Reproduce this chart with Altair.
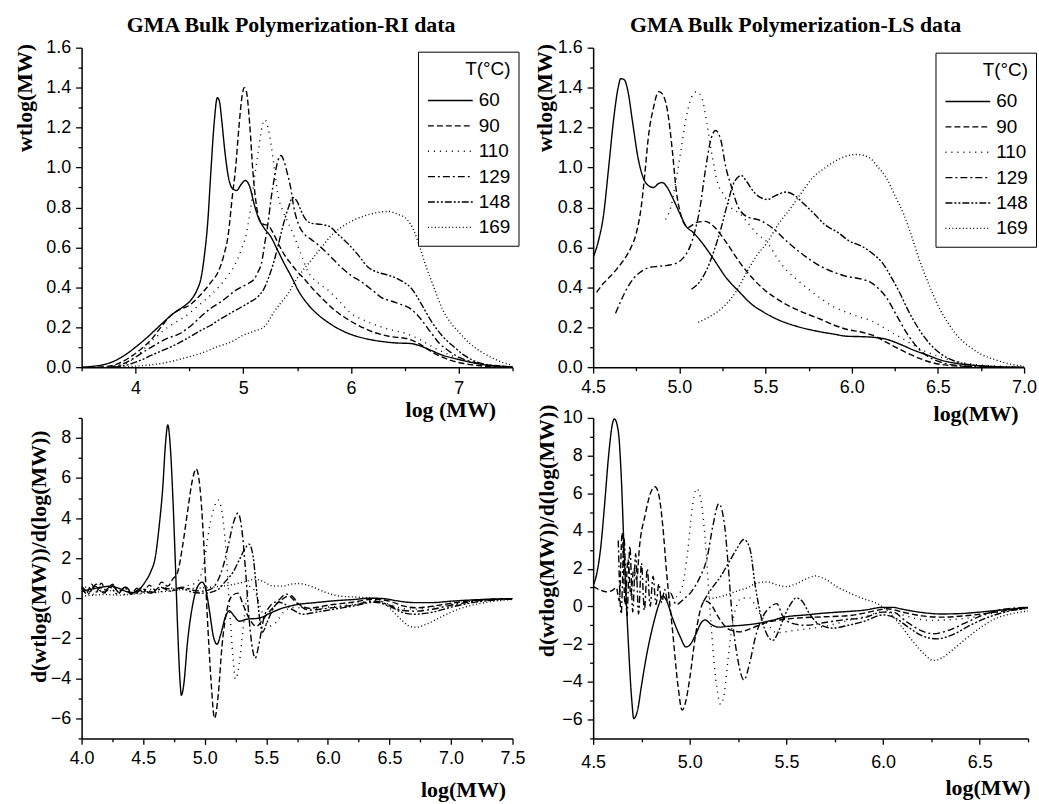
import altair as alt
import pandas as pd

# ---------------- categories / styles ----------------
T_LABELS = ["60", "90", "110", "129", "148", "169"]
DASHES = [[1, 0], [6, 3], [1, 5], [7, 3, 2, 3], [7, 2, 2, 2, 2, 2], [1, 2.5]]

TITLE_RI = "GMA Bulk Polymerization-RI data"
TITLE_LS = "GMA Bulk Polymerization-LS data"
YT_TOP = "wtlog(MW)"
YT_BOT = "d(wtlog(MW))/d(log(MW))"

# ---------------- tick values ----------------
X_TICKS_RI = [3.5, 4, 4.5, 5, 5.5, 6, 6.5, 7, 7.5]
Y_TICKS_W = [0, 0.1, 0.2, 0.3, 0.4, 0.5, 0.6, 0.7, 0.8, 0.9, 1.0, 1.1, 1.2, 1.3, 1.4, 1.5, 1.6]
X_TICKS_LS = [4.5, 4.75, 5.0, 5.25, 5.5, 5.75, 6.0, 6.25, 6.5, 6.75, 7.0]
X_TICKS_DRI = [4.0, 4.25, 4.5, 4.75, 5.0, 5.25, 5.5, 5.75, 6.0, 6.25, 6.5, 6.75, 7.0, 7.25, 7.5]
Y_TICKS_DRI = [-7, -6, -5, -4, -3, -2, -1, 0, 1, 2, 3, 4, 5, 6, 7, 8, 9]
X_TICKS_DLS = [4.5, 4.75, 5.0, 5.25, 5.5, 5.75, 6.0, 6.25, 6.5, 6.75]
Y_TICKS_DLS = [-7, -6, -5, -4, -3, -2, -1, 0, 1, 2, 3, 4, 5, 6, 7, 8, 9, 10]

# ---------------- RI wtlog(MW) ----------------
RI_60 = [(3.5,0.0),(3.6,0.004),(3.7,0.012),(3.8,0.03),(3.9,0.06),(4.0,0.10),(4.1,0.145),(4.2,0.195),
         (4.3,0.245),(4.38,0.28),(4.45,0.305),(4.52,0.34),(4.57,0.385),(4.61,0.45),(4.64,0.56),(4.67,0.72),
         (4.7,0.98),(4.73,1.22),(4.76,1.35),(4.78,1.33),(4.8,1.24),(4.83,1.08),(4.86,0.96),(4.9,0.895),
         (4.94,0.885),(4.98,0.915),(5.02,0.935),(5.06,0.905),(5.1,0.82),(5.14,0.75),(5.19,0.7),(5.26,0.65),
         (5.32,0.585),(5.38,0.52),(5.45,0.45),(5.51,0.385),(5.6,0.315),(5.69,0.265),(5.8,0.22),(5.91,0.185),
         (6.05,0.155),(6.21,0.135),(6.4,0.122),(6.56,0.118),(6.65,0.105),(6.74,0.085),(6.85,0.06),(6.95,0.045),
         (7.05,0.032),(7.15,0.02),(7.3,0.008),(7.5,0.002)]
RI_90 = [(3.65,0.0),(3.75,0.005),(3.85,0.02),(3.95,0.05),(4.05,0.09),(4.15,0.14),(4.25,0.21),(4.33,0.26),
         (4.4,0.285),(4.5,0.31),(4.6,0.36),(4.7,0.425),(4.77,0.48),(4.82,0.56),(4.86,0.66),(4.9,0.86),
         (4.93,1.0),(4.96,1.2),(4.99,1.36),(5.01,1.40),(5.03,1.38),(5.06,1.22),(5.09,0.98),(5.12,0.82),
         (5.15,0.74),(5.19,0.715),(5.23,0.71),(5.27,0.68),(5.32,0.625),(5.38,0.565),(5.44,0.52),(5.5,0.48),
         (5.57,0.44),(5.65,0.39),(5.75,0.335),(5.85,0.285),(5.94,0.25),(6.05,0.215),(6.21,0.175),(6.35,0.155),
         (6.54,0.14),(6.64,0.115),(6.74,0.08),(6.85,0.05),(6.95,0.03),(7.05,0.018),(7.2,0.007),(7.4,0.001)]
RI_110 = [(3.75,0.0),(3.9,0.015),(4.0,0.05),(4.15,0.13),(4.3,0.2),(4.45,0.25),(4.61,0.32),(4.77,0.40),
          (4.86,0.46),(4.92,0.51),(4.98,0.585),(5.03,0.67),(5.07,0.80),(5.11,0.97),(5.14,1.08),(5.17,1.19),
          (5.2,1.24),(5.23,1.2),(5.26,1.11),(5.29,0.99),(5.32,0.87),(5.37,0.78),(5.42,0.72),(5.47,0.66),
          (5.54,0.56),(5.6,0.48),(5.7,0.42),(5.79,0.385),(5.9,0.325),(6.0,0.27),(6.1,0.24),(6.21,0.215),
          (6.35,0.19),(6.53,0.165),(6.65,0.135),(6.78,0.095),(6.9,0.065),(7.05,0.035),(7.2,0.015),(7.4,0.004),
          (7.5,0.001)]
RI_129 = [(3.75,0.0),(3.9,0.02),(4.0,0.05),(4.1,0.085),(4.21,0.12),(4.3,0.145),(4.4,0.165),(4.52,0.21),
          (4.62,0.26),(4.7,0.295),(4.8,0.33),(4.86,0.355),(4.93,0.385),(4.98,0.40),(5.05,0.42),(5.1,0.44),
          (5.14,0.48),(5.17,0.52),(5.2,0.62),(5.23,0.72),(5.26,0.85),(5.29,0.95),(5.32,1.03),(5.35,1.06),
          (5.38,1.03),(5.41,0.97),(5.44,0.90),(5.47,0.80),(5.51,0.72),(5.57,0.665),(5.63,0.64),(5.69,0.615),
          (5.8,0.56),(5.91,0.5),(6.0,0.46),(6.09,0.43),(6.2,0.385),(6.28,0.35),(6.38,0.33),(6.46,0.315),
          (6.56,0.29),(6.65,0.24),(6.74,0.175),(6.82,0.12),(6.9,0.085),(7.0,0.05),(7.1,0.03),(7.25,0.012),
          (7.4,0.004),(7.5,0.001)]
RI_148 = [(3.8,0.0),(3.95,0.015),(4.05,0.035),(4.15,0.06),(4.28,0.09),(4.4,0.12),(4.5,0.15),(4.61,0.185),
          (4.7,0.21),(4.77,0.235),(4.88,0.27),(4.98,0.30),(5.06,0.325),(5.14,0.355),(5.19,0.39),(5.23,0.44),
          (5.28,0.52),(5.32,0.60),(5.37,0.71),(5.42,0.80),(5.46,0.85),(5.5,0.83),(5.54,0.78),(5.58,0.74),
          (5.64,0.72),(5.72,0.715),(5.8,0.705),(5.88,0.665),(5.97,0.62),(6.07,0.56),(6.16,0.5),(6.25,0.475),
          (6.35,0.46),(6.46,0.435),(6.56,0.395),(6.65,0.32),(6.74,0.235),(6.85,0.155),(6.96,0.10),(7.05,0.06),
          (7.15,0.03),(7.3,0.01),(7.5,0.002)]
RI_169 = [(3.9,0.0),(4.0,0.005),(4.15,0.012),(4.3,0.025),(4.45,0.045),(4.61,0.07),(4.75,0.1),(4.92,0.135),
          (4.98,0.155),(5.1,0.18),(5.2,0.205),(5.29,0.28),(5.36,0.33),(5.42,0.37),(5.47,0.42),(5.54,0.475),
          (5.63,0.535),(5.72,0.595),(5.81,0.655),(5.91,0.70),(6.02,0.735),(6.14,0.76),(6.25,0.775),(6.34,0.78),
          (6.44,0.765),(6.52,0.74),(6.58,0.69),(6.64,0.6),(6.7,0.5),(6.77,0.40),(6.85,0.29),(6.93,0.22),
          (7.02,0.165),(7.1,0.12),(7.2,0.08),(7.3,0.05),(7.4,0.025),(7.5,0.01)]

# ---------------- LS wtlog(MW) ----------------
LS_60 = [(4.5,0.55),(4.53,0.63),(4.56,0.76),(4.59,1.0),(4.62,1.25),(4.645,1.4),(4.66,1.445),(4.68,1.44),
         (4.7,1.39),(4.73,1.22),(4.76,1.05),(4.79,0.95),(4.82,0.91),(4.85,0.9),(4.88,0.92),(4.9,0.925),
         (4.93,0.9),(4.96,0.85),(5.0,0.775),(5.04,0.705),(5.08,0.675),(5.13,0.625),(5.2,0.54),(5.27,0.45),
         (5.35,0.375),(5.42,0.315),(5.49,0.275),(5.58,0.235),(5.68,0.205),(5.8,0.18),(5.9,0.165),(5.97,0.155),
         (6.05,0.153),(6.12,0.15),(6.2,0.14),(6.28,0.115),(6.36,0.085),(6.44,0.06),(6.52,0.035),(6.6,0.02),
         (6.7,0.01),(6.8,0.004),(7.0,0.0)]
LS_90 = [(4.52,0.375),(4.56,0.42),(4.6,0.455),(4.64,0.495),(4.68,0.54),(4.72,0.6),(4.75,0.67),(4.78,0.81),
         (4.8,0.97),(4.82,1.15),(4.85,1.3),(4.88,1.38),(4.9,1.37),(4.93,1.29),(4.96,1.08),(4.98,0.9),
         (5.01,0.76),(5.05,0.70),(5.1,0.725),(5.15,0.73),(5.2,0.705),(5.26,0.64),(5.35,0.525),(5.42,0.45),
         (5.49,0.39),(5.56,0.345),(5.64,0.305),(5.73,0.27),(5.82,0.24),(5.9,0.21),(5.97,0.19),(6.06,0.175),
         (6.12,0.16),(6.2,0.125),(6.3,0.08),(6.39,0.045),(6.47,0.022),(6.55,0.01),(6.7,0.003)]
LS_110 = [(4.92,0.74),(4.95,0.8),(4.98,0.93),(5.01,1.09),(5.04,1.25),(5.07,1.35),(5.1,1.38),(5.13,1.35),
          (5.16,1.22),(5.19,1.06),(5.22,0.93),(5.26,0.86),(5.3,0.8),(5.35,0.77),(5.4,0.72),(5.45,0.67),
          (5.51,0.625),(5.58,0.53),(5.64,0.47),(5.68,0.44),(5.75,0.39),(5.82,0.345),(5.9,0.3),(5.97,0.275),
          (6.05,0.25),(6.12,0.23),(6.2,0.19),(6.3,0.14),(6.4,0.09),(6.5,0.055),(6.6,0.03),(6.7,0.015),
          (6.85,0.005),(7.0,0.001)]
LS_129 = [(4.63,0.27),(4.66,0.33),(4.7,0.40),(4.74,0.45),(4.78,0.48),(4.83,0.5),(4.88,0.505),(4.93,0.51),
          (4.98,0.52),(5.02,0.545),(5.06,0.6),(5.09,0.68),(5.12,0.8),(5.15,0.98),(5.18,1.13),(5.21,1.185),
          (5.24,1.14),(5.27,1.0),(5.3,0.91),(5.34,0.805),(5.39,0.755),(5.47,0.735),(5.55,0.69),(5.63,0.625),
          (5.7,0.575),(5.82,0.505),(5.97,0.455),(6.06,0.44),(6.12,0.42),(6.16,0.39),(6.2,0.35),(6.26,0.26),
          (6.32,0.17),(6.38,0.1),(6.44,0.055),(6.5,0.03),(6.6,0.01),(6.75,0.002)]
LS_148 = [(5.07,0.39),(5.12,0.43),(5.16,0.49),(5.2,0.58),(5.24,0.69),(5.28,0.82),(5.32,0.93),(5.36,0.96),
          (5.39,0.93),(5.43,0.88),(5.47,0.85),(5.51,0.84),(5.56,0.86),(5.62,0.877),(5.67,0.86),(5.72,0.82),
          (5.78,0.77),(5.85,0.71),(5.92,0.675),(5.98,0.635),(6.06,0.605),(6.12,0.57),(6.18,0.52),(6.23,0.45),
          (6.28,0.37),(6.33,0.28),(6.39,0.19),(6.45,0.12),(6.52,0.065),(6.6,0.03),(6.7,0.01),(6.85,0.002)]
LS_169 = [(5.11,0.225),(5.18,0.255),(5.26,0.305),(5.33,0.38),(5.39,0.475),(5.45,0.56),(5.51,0.625),
          (5.57,0.71),(5.64,0.79),(5.71,0.875),(5.78,0.955),(5.84,0.995),(5.9,1.03),(5.96,1.055),(6.03,1.065),
          (6.1,1.05),(6.15,1.005),(6.2,0.95),(6.25,0.86),(6.3,0.77),(6.35,0.65),(6.4,0.52),(6.45,0.41),
          (6.5,0.31),(6.56,0.22),(6.62,0.15),(6.68,0.105),(6.75,0.065),(6.84,0.035),(6.92,0.015),(7.0,0.005)]

# ---------------- RI derivative ----------------
D_RI_60 = [(4.0,0.35),(4.08,0.45),(4.16,0.55),(4.23,0.6),(4.3,0.5),(4.37,0.32),(4.42,0.28),(4.47,0.45),
           (4.52,0.85),(4.56,1.3),(4.6,2.1),(4.63,3.6),(4.66,5.6),(4.68,7.6),(4.7,8.65),(4.72,7.6),(4.74,5.2),
           (4.76,2.0),(4.78,-1.5),(4.8,-4.2),(4.81,-4.85),(4.83,-4.3),(4.86,-2.2),(4.9,-0.4),(4.94,0.55),
           (4.98,0.8),(5.01,0.4),(5.04,-0.7),(5.07,-1.9),(5.1,-2.3),(5.13,-1.8),(5.17,-0.9),(5.2,-0.63),
           (5.24,-0.9),(5.28,-1.15),(5.34,-1.05),(5.44,-1.0),(5.52,-0.78),(5.63,-0.5),(5.75,-0.32),(5.9,-0.22),
           (6.05,-0.13),(6.2,-0.07),(6.35,0.0),(6.45,-0.02),(6.55,-0.12),(6.7,-0.22),(6.85,-0.22),(7.0,-0.15),
           (7.2,-0.08),(7.5,-0.02)]
D_RI_90 = [(4.0,0.55),(4.04,0.25),(4.08,0.7),(4.12,0.3),(4.16,0.75),(4.2,0.35),(4.25,0.7),(4.3,0.3),
           (4.35,0.55),(4.4,0.2),(4.45,0.5),(4.5,0.3),(4.55,0.65),(4.6,0.4),(4.65,0.8),(4.7,0.6),(4.74,0.95),
           (4.78,1.3),(4.82,2.6),(4.86,4.3),(4.9,5.9),(4.93,6.45),(4.96,5.6),(4.99,3.0),(5.02,-0.8),(5.05,-4.0),
           (5.08,-6.0),(5.11,-4.8),(5.14,-2.4),(5.18,-0.6),(5.22,0.1),(5.27,0.25),(5.31,-0.3),(5.36,-1.0),
           (5.42,-1.4),(5.48,-1.0),(5.55,-0.5),(5.62,-0.1),(5.68,0.1),(5.75,-0.25),(5.85,-0.5),(6.0,-0.35),
           (6.2,-0.2),(6.38,-0.05),(6.5,-0.15),(6.62,-0.4),(6.72,-0.48),(6.85,-0.4),(7.0,-0.25),(7.2,-0.1),
           (7.5,-0.02)]
D_RI_110 = [(4.0,0.3),(4.05,0.6),(4.1,0.2),(4.15,0.55),(4.2,0.25),(4.27,0.5),(4.33,0.15),(4.4,0.4),
            (4.47,0.2),(4.55,0.45),(4.62,0.25),(4.7,0.55),(4.78,0.4),(4.85,0.6),(4.92,0.75),(4.96,1.0),
            (5.0,2.0),(5.04,3.6),(5.08,4.6),(5.11,4.9),(5.14,4.3),(5.17,2.6),(5.2,-0.3),(5.23,-3.0),(5.25,-4.05),
            (5.28,-3.3),(5.31,-1.6),(5.34,0.0),(5.37,0.6),(5.41,0.3),(5.46,-0.6),(5.52,-1.4),(5.58,-1.2),
            (5.64,-0.7),(5.72,-0.45),(5.85,-0.55),(6.0,-0.45),(6.2,-0.3),(6.38,-0.1),(6.5,-0.3),(6.6,-0.5),
            (6.7,-0.55),(6.85,-0.45),(7.0,-0.3),(7.2,-0.12),(7.5,-0.03)]
D_RI_129 = [(4.0,0.6),(4.06,0.3),(4.12,0.7),(4.18,0.25),(4.24,0.65),(4.3,0.35),(4.36,0.55),(4.42,0.2),
            (4.5,0.45),(4.58,0.3),(4.66,0.5),(4.74,0.45),(4.82,0.55),(4.9,0.4),(4.98,0.35),(5.05,0.45),
            (5.1,0.8),(5.15,1.6),(5.19,2.6),(5.23,3.7),(5.27,4.25),(5.3,3.5),(5.33,1.5),(5.36,-1.0),(5.39,-2.6),
            (5.41,-3.0),(5.44,-2.3),(5.48,-1.0),(5.53,-0.4),(5.6,-0.1),(5.66,0.2),(5.71,0.1),(5.77,-0.35),
            (5.85,-0.6),(6.0,-0.5),(6.2,-0.35),(6.38,-0.15),(6.5,-0.35),(6.6,-0.6),(6.7,-0.65),(6.85,-0.55),
            (7.0,-0.35),(7.2,-0.15),(7.5,-0.03)]
D_RI_148 = [(4.0,0.5),(4.05,0.2),(4.11,0.6),(4.17,0.3),(4.23,0.55),(4.29,0.2),(4.35,0.5),(4.41,0.25),
            (4.48,0.5),(4.56,0.25),(4.64,0.55),(4.72,0.35),(4.8,0.5),(4.9,0.3),(5.0,0.25),(5.1,0.4),
            (5.17,0.85),(5.23,1.3),(5.28,1.9),(5.33,2.5),(5.36,2.7),(5.39,2.2),(5.42,0.5),(5.45,-1.2),
            (5.47,-1.7),(5.5,-1.3),(5.55,-0.6),(5.6,-0.2),(5.65,-0.3),(5.72,-0.6),(5.8,-0.8),(5.9,-0.7),
            (6.05,-0.55),(6.2,-0.4),(6.38,-0.2),(6.5,-0.4),(6.6,-0.7),(6.7,-0.8),(6.85,-0.7),(7.0,-0.45),
            (7.2,-0.2),(7.5,-0.04)]
D_RI_169 = [(4.0,0.1),(4.1,0.15),(4.2,0.18),(4.3,0.15),(4.4,0.2),(4.5,0.25),(4.6,0.3),(4.7,0.35),(4.8,0.42),
            (4.9,0.48),(5.0,0.52),(5.1,0.58),(5.2,0.65),(5.3,0.78),(5.36,0.88),(5.41,0.95),(5.47,0.85),
            (5.55,0.62),(5.63,0.6),(5.7,0.7),(5.76,0.73),(5.82,0.68),(5.9,0.5),(6.0,0.25),(6.1,0.1),(6.25,0.05),
            (6.38,0.0),(6.45,-0.2),(6.52,-0.6),(6.6,-1.1),(6.67,-1.42),(6.72,-1.45),(6.8,-1.3),(6.9,-1.0),
            (7.0,-0.7),(7.1,-0.47),(7.25,-0.25),(7.5,-0.06)]

# ---------------- LS derivative ----------------
D_LS_60 = [(4.5,1.1),(4.52,1.8),(4.54,3.2),(4.56,5.5),(4.58,8.0),(4.6,9.7),(4.61,9.95),(4.63,9.3),
           (4.645,7.0),(4.66,3.0),(4.68,-1.5),(4.7,-5.0),(4.71,-5.95),(4.73,-5.5),(4.75,-4.2),(4.78,-2.4),
           (4.81,-1.0),(4.84,0.1),(4.86,0.55),(4.88,0.3),(4.91,-0.6),(4.95,-1.6),(4.98,-2.15),(5.0,-2.05),
           (5.03,-1.5),(5.06,-0.85),(5.08,-0.72),(5.11,-0.95),(5.15,-1.1),(5.2,-1.05),(5.27,-1.0),(5.35,-0.9),
           (5.42,-0.75),(5.5,-0.55),(5.6,-0.45),(5.7,-0.35),(5.8,-0.28),(5.9,-0.2),(6.0,-0.05),(6.05,-0.05),
           (6.1,-0.15),(6.2,-0.32),(6.3,-0.4),(6.4,-0.38),(6.5,-0.3),(6.6,-0.2),(6.75,-0.05)]
D_LS_90 = [(4.5,1.05),(4.53,0.9),(4.57,0.77),(4.6,0.85),(4.62,1.0),(4.635,0.3),(4.65,3.9),(4.665,0.1),
           (4.68,2.5),(4.695,0.6),(4.71,2.0),(4.725,1.4),(4.74,3.2),(4.77,4.9),(4.8,6.1),(4.82,6.35),
           (4.84,5.9),(4.86,4.3),(4.88,1.8),(4.91,-1.2),(4.94,-4.3),(4.96,-5.5),(4.98,-5.0),(5.0,-3.8),
           (5.03,-1.5),(5.06,0.0),(5.08,0.3),(5.11,0.1),(5.15,-0.6),(5.2,-1.2),(5.26,-1.35),(5.32,-1.15),
           (5.4,-0.85),(5.48,-0.7),(5.58,-0.6),(5.7,-0.55),(5.83,-0.48),(5.95,-0.25),(6.02,-0.12),(6.1,-0.3),
           (6.2,-0.5),(6.3,-0.57),(6.42,-0.5),(6.55,-0.35),(6.65,-0.2),(6.75,-0.08)]
D_LS_110 = [(4.93,0.5),(4.96,1.0),(4.99,3.0),(5.01,5.0),(5.035,6.25),(5.06,5.5),(5.08,3.5),(5.1,0.5),
            (5.12,-2.3),(5.14,-4.3),(5.16,-5.2),(5.18,-4.5),(5.2,-2.6),(5.23,-0.4),(5.27,0.45),(5.31,0.45),
            (5.35,-0.2),(5.4,-0.9),(5.45,-1.4),(5.52,-1.3),(5.6,-1.2),(5.7,-1.05),(5.8,-0.8),(5.9,-0.55),
            (6.0,-0.3),(6.08,-0.4),(6.17,-0.65),(6.26,-0.74),(6.35,-0.7),(6.45,-0.6),(6.55,-0.4),(6.65,-0.22),
            (6.75,-0.1)]
D_LS_129 = [(4.63,3.5),(4.645,-0.4),(4.66,3.6),(4.675,-0.5),(4.69,3.2),(4.705,-0.3),(4.72,2.8),(4.735,-0.4),
            (4.75,2.3),(4.765,-0.2),(4.78,2.0),(4.795,0.0),(4.81,1.6),(4.825,0.1),(4.84,1.2),(4.855,0.2),
            (4.87,0.9),(4.885,0.3),(4.9,0.7),(4.93,0.1),(4.97,0.4),(5.01,0.8),(5.05,1.5),(5.09,2.6),(5.12,4.3),
            (5.15,5.45),(5.18,4.3),(5.2,2.0),(5.22,-0.6),(5.25,-2.9),(5.28,-3.9),(5.31,-3.0),(5.34,-1.6),
            (5.38,-0.5),(5.42,0.0),(5.45,0.15),(5.48,-0.5),(5.53,-0.9),(5.6,-1.0),(5.7,-0.85),(5.8,-0.7),
            (5.9,-0.6),(6.0,-0.3),(6.05,-0.3),(6.12,-0.8),(6.2,-1.3),(6.26,-1.45),(6.33,-1.3),(6.42,-0.9),
            (6.52,-0.45),(6.62,-0.15),(6.75,-0.05)]
D_LS_148 = [(5.07,0.25),(5.11,0.9),(5.16,1.6),(5.2,2.3),(5.24,3.0),(5.28,3.55),(5.31,3.1),(5.34,1.0),
            (5.37,-0.6),(5.4,-1.5),(5.43,-1.8),(5.46,-1.3),(5.49,-0.5),(5.52,0.1),(5.55,0.45),(5.58,0.3),
            (5.62,-0.4),(5.67,-0.95),(5.74,-1.15),(5.82,-1.0),(5.9,-0.8),(6.0,-0.45),(6.06,-0.6),(6.13,-1.1),
            (6.2,-1.55),(6.28,-1.72),(6.36,-1.5),(6.45,-1.0),(6.55,-0.55),(6.65,-0.25),(6.75,-0.1)]
D_LS_169 = [(5.1,0.4),(5.17,0.55),(5.24,0.8),(5.3,1.0),(5.35,1.25),(5.4,1.3),(5.45,1.15),(5.5,1.05),
            (5.55,1.2),(5.6,1.45),(5.65,1.62),(5.7,1.45),(5.76,1.05),(5.83,0.7),(5.9,0.4),(5.97,0.15),
            (6.03,-0.3),(6.09,-1.0),(6.15,-1.8),(6.21,-2.5),(6.26,-2.87),(6.31,-2.7),(6.36,-2.3),(6.43,-1.7),
            (6.5,-1.15),(6.58,-0.65),(6.66,-0.4),(6.75,-0.25)]


def frame(series_list):
    rows = []
    for lab, pts in zip(T_LABELS, series_list):
        for i, (x, y) in enumerate(pts):
            rows.append({"x": x, "y": y, "T": lab, "i": i})
    return pd.DataFrame(rows)


TICK_MAJOR = 6
TICK_MINOR = 3.5


def axis(values, major_test, fmt, title, tx, ty, vertical, lpad):
    common = dict(
        values=values,
        labelExpr=f"({major_test}) ? format(datum.value, '{fmt}') : ''",
        tickSize={"condition": {"test": major_test, "value": TICK_MAJOR}, "value": TICK_MINOR},
        title=title,
        titleX=tx,
        titleY=ty,
        labelFlush=False,
        labelOverlap=False,
        grid=False,
        labelPadding=lpad,
        domainColor="black", domainWidth=1.5, tickColor="black", tickWidth=1.3,
        labelColor="black", labelFont="Liberation Sans", labelFontSize=18,
        titleFont="Liberation Serif", titleFontSize=22, titleFontWeight="bold", titleColor="black",
    )
    if vertical:
        common.update(titleAngle=270, titleBaseline="middle", titleAlign="center")
    else:
        common.update(titleAlign="right", titleBaseline="alphabetic")
    return alt.Axis(**common)


def legend(lx, ly):
    return alt.Legend(
        title="T(°C)", orient="none", legendX=lx, legendY=ly,
        symbolType="M -1 0 L 5 0", symbolSize=225, symbolStrokeColor="black",
        symbolStrokeWidth=1.4, symbolFillColor="transparent", labelOffset=34,
        labelFont="Liberation Sans", labelFontSize=19, labelColor="black",
        titleFont="Liberation Sans", titleFontSize=19, titleFontWeight="normal",
        titleColor="black", titleAnchor="end", titlePadding=12.5, rowPadding=5.5,
        padding=8, strokeColor="black", fillColor="white",
    )


def panel(df, xdom, ydom, xax, yax, width, height, leg, title=None):
    ch = alt.Chart(df).mark_line(color="black", strokeWidth=1.4, interpolate="monotone", clip=True).encode(
        x=alt.X("x:Q", scale=alt.Scale(domain=xdom, nice=False, zero=False), axis=xax),
        y=alt.Y("y:Q", scale=alt.Scale(domain=ydom, nice=False, zero=False), axis=yax),
        strokeDash=alt.StrokeDash("T:N", scale=alt.Scale(domain=T_LABELS, range=DASHES),
                                  legend=leg if leg is not None else None),
        detail="T:N",
        order="i:Q",
    ).properties(width=width, height=height)
    if title is not None:
        ch = ch.properties(title=title)
    return ch


def ttl(text, dx):
    return alt.TitleParams(text=text, font="Liberation Serif", fontSize=22, fontWeight="bold",
                           color="black", anchor="middle", dx=dx, offset=-15, baseline="alphabetic",
                           frame="group")


T_HALF = "abs(datum.value*2 - round(datum.value*2)) < 0.001"
T_INT = "abs(datum.value - round(datum.value)) < 0.001"
T_FIFTH = "abs(datum.value*5 - round(datum.value*5)) < 0.001"
T_EVEN = "abs(datum.value % 2) < 0.001"

p1 = panel(frame([RI_60, RI_90, RI_110, RI_129, RI_148, RI_169]), [3.5, 7.5], [0, 1.6],
           axis(X_TICKS_RI, T_INT, "d", "log (MW)", 416, 50, False, 6),
           axis(Y_TICKS_W, T_FIFTH, ".1f", YT_TOP, -57, 50, True, 5),
           433, 321, legend(338, 4), ttl(TITLE_RI, -6))
p2 = panel(frame([LS_60, LS_90, LS_110, LS_129, LS_148, LS_169]), [4.5, 7.0], [0, 1.6],
           axis(X_TICKS_LS, T_HALF, ".1f", "log(MW)", 427, 54, False, 5),
           axis(Y_TICKS_W, T_FIFTH, ".1f", YT_TOP, -49, 50, True, 5),
           433, 321, legend(344, 5), ttl(TITLE_LS, -13))
p3 = panel(frame([D_RI_60, D_RI_90, D_RI_110, D_RI_129, D_RI_148, D_RI_169]), [4.0, 7.5], [-7, 9],
           axis(X_TICKS_DRI, T_HALF, ".1f", "log(MW)", 426, 58, False, 5),
           axis(Y_TICKS_DRI, T_EVEN, "d", YT_BOT, -43, 139, True, 5),
           433, 322, None)
p4 = panel(frame([D_LS_60, D_LS_90, D_LS_110, D_LS_129, D_LS_148, D_LS_169]), [4.5, 6.75], [-7, 10],
           axis(X_TICKS_DLS, T_HALF, ".1f", "log(MW)", 439, 56, False, 9),
           axis(Y_TICKS_DLS, T_EVEN, "d", YT_BOT, -47, 113, True, 5),
           437, 322, None)

chart = alt.concat(p1, p2, p3, p4, columns=2, spacing={"row": 51, "column": 81}, bounds="flush").resolve_scale(
    x="independent", y="independent", strokeDash="independent"
).properties(
    padding={"left": 14, "top": 12, "right": 2, "bottom": 2}, background="white"
).configure_view(stroke=None)

chart.save("out.html", embed_options={"renderer": "svg", "actions": False})
